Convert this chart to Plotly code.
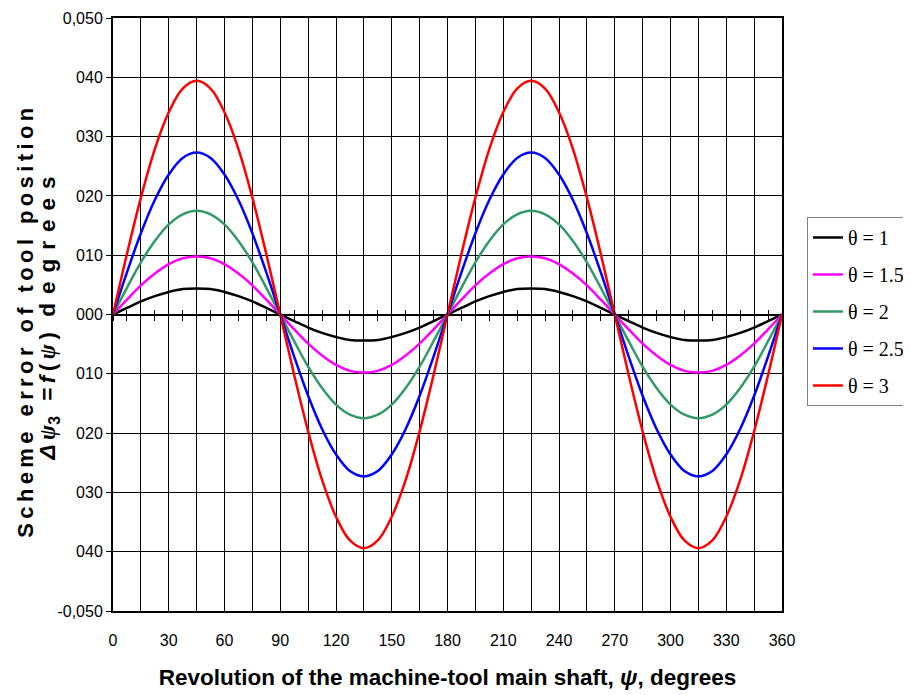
import plotly.graph_objects as go

# --- data ---
psi = [0, 7.5, 15, 22.5, 30, 37.5, 45, 52.5, 60, 67.5, 75, 82.5, 90,
       97.5, 105, 112.5, 120, 127.5, 135, 142.5, 150, 157.5, 165, 172.5, 180,
       187.5, 195, 202.5, 210, 217.5, 225, 232.5, 240, 247.5, 255, 262.5, 270,
       277.5, 285, 292.5, 300, 307.5, 315, 322.5, 330, 337.5, 345, 352.5, 360]

err_theta_1 = [0, 0.0011, 0.0022, 0.0031, 0.0038, 0.0043, 0.0044, 0.0043, 0.0038, 0.0031, 0.0022, 0.0011,
               0, -0.0011, -0.0022, -0.0031, -0.0038, -0.0043, -0.0044, -0.0043, -0.0038, -0.0031, -0.0022, -0.0011,
               0, 0.0011, 0.0022, 0.0031, 0.0038, 0.0043, 0.0044, 0.0043, 0.0038, 0.0031, 0.0022, 0.0011,
               0, -0.0011, -0.0022, -0.0031, -0.0038, -0.0043, -0.0044, -0.0043, -0.0038, -0.0031, -0.0022, -0.0011, 0]
err_theta_15 = [0, 0.0025, 0.0049, 0.0069, 0.0085, 0.0095, 0.0098, 0.0095, 0.0085, 0.0069, 0.0049, 0.0025,
                0, -0.0025, -0.0049, -0.0069, -0.0085, -0.0095, -0.0098, -0.0095, -0.0085, -0.0069, -0.0049, -0.0025,
                0, 0.0025, 0.0049, 0.0069, 0.0085, 0.0095, 0.0098, 0.0095, 0.0085, 0.0069, 0.0049, 0.0025,
                0, -0.0025, -0.0049, -0.0069, -0.0085, -0.0095, -0.0098, -0.0095, -0.0085, -0.0069, -0.0049, -0.0025, 0]
err_theta_2 = [0, 0.0045, 0.0088, 0.0124, 0.0152, 0.0169, 0.0175, 0.0169, 0.0152, 0.0124, 0.0088, 0.0045,
               0, -0.0045, -0.0088, -0.0124, -0.0152, -0.0169, -0.0175, -0.0169, -0.0152, -0.0124, -0.0088, -0.0045,
               0, 0.0045, 0.0088, 0.0124, 0.0152, 0.0169, 0.0175, 0.0169, 0.0152, 0.0124, 0.0088, 0.0045,
               0, -0.0045, -0.0088, -0.0124, -0.0152, -0.0169, -0.0175, -0.0169, -0.0152, -0.0124, -0.0088, -0.0045, 0]
err_theta_25 = [0, 0.0071, 0.0137, 0.0193, 0.0236, 0.0264, 0.0273, 0.0264, 0.0236, 0.0193, 0.0137, 0.0071,
                0, -0.0071, -0.0137, -0.0193, -0.0236, -0.0264, -0.0273, -0.0264, -0.0236, -0.0193, -0.0137, -0.0071,
                0, 0.0071, 0.0137, 0.0193, 0.0236, 0.0264, 0.0273, 0.0264, 0.0236, 0.0193, 0.0137, 0.0071,
                0, -0.0071, -0.0137, -0.0193, -0.0236, -0.0264, -0.0273, -0.0264, -0.0236, -0.0193, -0.0137, -0.0071, 0]
err_theta_3 = [0, 0.0102, 0.0197, 0.0279, 0.0341, 0.0381, 0.0394, 0.0381, 0.0341, 0.0279, 0.0197, 0.0102,
               0, -0.0102, -0.0197, -0.0279, -0.0341, -0.0381, -0.0394, -0.0381, -0.0341, -0.0279, -0.0197, -0.0102,
               0, 0.0102, 0.0197, 0.0279, 0.0341, 0.0381, 0.0394, 0.0381, 0.0341, 0.0279, 0.0197, 0.0102,
               0, -0.0102, -0.0197, -0.0279, -0.0341, -0.0381, -0.0394, -0.0381, -0.0341, -0.0279, -0.0197, -0.0102, 0]

series_names = ["θ = 1", "θ = 1.5", "θ = 2", "θ = 2.5", "θ = 3"]
series_values = [err_theta_1, err_theta_15, err_theta_2, err_theta_25, err_theta_3]
series_colors = ["#000000", "#FF00FF", "#339966", "#0000FF", "#FF0000"]

x_tick_vals = [0, 15, 30, 45, 60, 75, 90, 105, 120, 135, 150, 165, 180,
               195, 210, 225, 240, 255, 270, 285, 300, 315, 330, 345, 360]
x_tick_text = ["0", " ", "30", " ", "60", " ", "90", " ", "120", " ", "150", " ", "180",
               " ", "210", " ", "240", " ", "270", " ", "300", " ", "330", " ", "360"]
x_minor_ticks = [0, 7.5, 15, 22.5, 30, 37.5, 45, 52.5, 60, 67.5, 75, 82.5, 90,
                 97.5, 105, 112.5, 120, 127.5, 135, 142.5, 150, 157.5, 165, 172.5, 180,
                 187.5, 195, 202.5, 210, 217.5, 225, 232.5, 240, 247.5, 255, 262.5, 270,
                 277.5, 285, 292.5, 300, 307.5, 315, 322.5, 330, 337.5, 345, 352.5, 360]

y_tick_vals = [-0.05, -0.04, -0.03, -0.02, -0.01, 0, 0.01, 0.02, 0.03, 0.04, 0.05]
y_tick_text = ["-0,050", "040", "030", "020", "010", "000", "010", "020", "030", "040", "0,050"]

SANS = "Liberation Sans, Arial, sans-serif"

fig = go.Figure()
for i, (name, vals, col) in enumerate(zip(series_names, series_values, series_colors)):
    fig.add_trace(go.Scatter(
        x=psi, y=vals, mode="lines", name=name,
        line=dict(color=col, width=2.5, shape="spline", smoothing=1.0),
        legendgroup=f"g{i}",
    ))

# empty traces so that the zero-line tick axes are drawn
fig.add_trace(go.Scatter(x=[], y=[], xaxis="x2", yaxis="y", showlegend=False, hoverinfo="skip"))
fig.add_trace(go.Scatter(x=[], y=[], xaxis="x3", yaxis="y", showlegend=False, hoverinfo="skip"))

sp = "\u2009"
line1 = sp.join(list("Scheme error of tool position"))
psi_g = '<span style="font-family:Liberation Serif">ψ</span>'
line2 = ("<i>Δ" + sp + psi_g + "</i><sub>3</sub>" + sp + " " + sp + "=" + sp + "<i>f</i>" + sp + "(" + sp
         + "<i>" + psi_g + "</i>" + sp + ")" + sp + " " + sp + (sp + sp).join(list("degrees")))

# the page body adds an 8 px offset; margins compensate so the plot lands where the reference has it
fig.update_layout(
    width=911, height=695,
    margin=dict(l=105, r=137, t=10, b=92),
    paper_bgcolor="white", plot_bgcolor="white",
    showlegend=True,
    legend=dict(
        xref="container", yref="container",
        x=0.877, y=0.6993, xanchor="left", yanchor="top",
        bordercolor="#808080", borderwidth=1, bgcolor="white",
        font=dict(family="Liberation Serif, Times New Roman, serif", size=20, color="black"),
        itemwidth=30, tracegroupgap=8,
    ),
    xaxis=dict(
        range=[0, 360], tickmode="array", tickvals=x_tick_vals, ticktext=x_tick_text,
        showgrid=True, gridcolor="black", gridwidth=1,
        showline=True, linecolor="black", linewidth=2, mirror=True,
        ticks="", ticklabelstandoff=14, automargin=False,
        tickfont=dict(family=SANS, size=16, color="black"),
        zeroline=False,
        title=dict(
            text="Revolution of the machine-tool main shaft, <i>ψ</i>, degrees",
            font=dict(family=SANS, size=22.5, color="black", weight="bold"),
            standoff=21,
        ),
    ),
    xaxis2=dict(
        overlaying="x", anchor="free", position=0.5, range=[0, 360], matches="x",
        tickmode="array", tickvals=x_minor_ticks, ticks="outside", ticklen=5,
        tickcolor="black", tickwidth=1, showticklabels=False, showgrid=False,
        showline=False, zeroline=False, automargin=False,
    ),
    xaxis3=dict(
        overlaying="x", anchor="free", position=0.5, range=[0, 360], matches="x",
        tickmode="array", tickvals=x_minor_ticks, ticks="inside", ticklen=5,
        tickcolor="black", tickwidth=1, showticklabels=False, showgrid=False,
        showline=False, zeroline=False, automargin=False,
    ),
    yaxis=dict(
        range=[-0.05, 0.05], tickmode="array", tickvals=y_tick_vals, ticktext=y_tick_text,
        showgrid=True, gridcolor="black", gridwidth=1,
        showline=True, linecolor="black", linewidth=2, mirror=True,
        ticks="outside", ticklen=5, tickcolor="black", automargin=False,
        tickfont=dict(family=SANS, size=16, color="black"),
        zeroline=True, zerolinecolor="black", zerolinewidth=1.5,
    ),
    annotations=[
        dict(
            text=line1,
            xref="paper", yref="paper", x=-0.130, y=0.486,
            xanchor="center", yanchor="middle", textangle=-90, showarrow=False,
            font=dict(family=SANS, size=22, color="black", weight="bold"),
        ),
        dict(
            text=line2,
            xref="paper", yref="paper", x=-0.095, y=0.494,
            xanchor="center", yanchor="middle", textangle=-90, showarrow=False,
            font=dict(family=SANS, size=22.5, color="black", weight="bold"),
        ),
    ],
)

fig.write_html("out.html")
